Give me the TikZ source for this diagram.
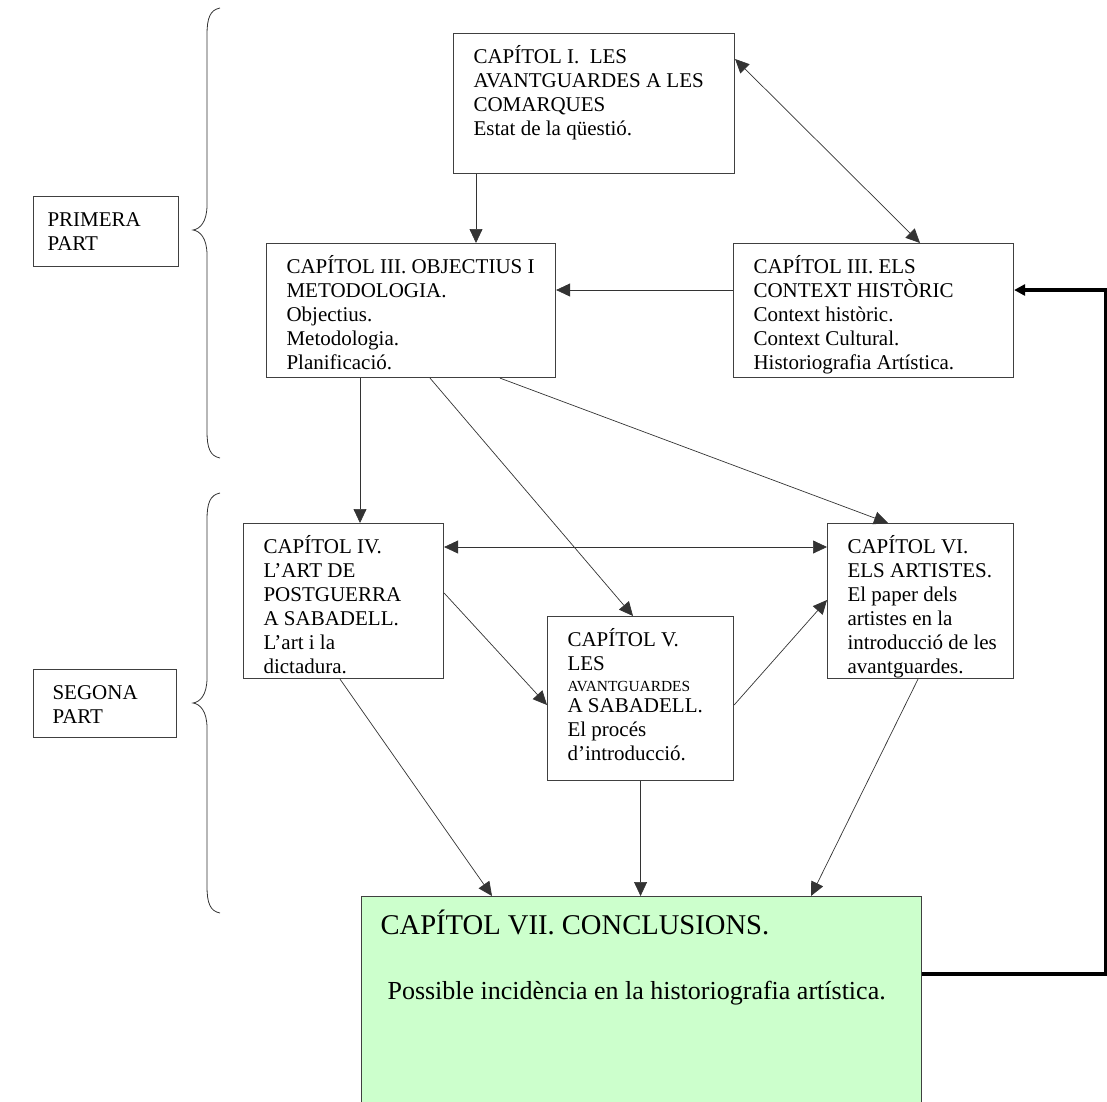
\documentclass[tikz,border=0pt]{standalone}
\usepackage{fontspec}
\setmainfont{Liberation Serif}
\usetikzlibrary{arrows.meta,calc}
\definecolor{conclgreen}{HTML}{CCFFCC}
\newcommand{\bodyfont}{\fontsize{21pt}{23.9pt}\selectfont}
\newcommand{\chapbox}[4]{\parbox[t][#2][t]{#1}{\bodyfont\leftskip=#3\rightskip=0pt plus 1fil\parindent=0pt\parfillskip=0pt plus 1fil\vspace*{10pt}\rule{0pt}{20pt}#4}}
\tikzset{
  chap/.style={draw=black!75, line width=1.1pt, fill=white, anchor=north west, inner sep=0pt, align=left},
  arr/.style={draw=black!80, line width=0.7pt, -{Triangle[length=14pt,width=13pt]}},
  arrtwo/.style={draw=black!80, line width=0.7pt, {Triangle[length=14pt,width=13pt]}-{Triangle[length=14pt,width=13pt]}},
  thickarr/.style={draw=black, line width=3.6pt, -{Triangle[length=11pt,width=11pt]}},
  brace/.style={draw=black!80, line width=0.8pt}
}
\begin{document}
\begin{tikzpicture}[x=1pt,y=-1pt]
\useasboundingbox (0,0) rectangle (1107,1101);
\clip (0,0) rectangle (1107,1101);

% chapter boxes
\node[chap] (c1) at (453,33) {\chapbox{281pt}{140pt}{20pt}{CAPÍTOL I.\ \ LES\\ AVANTGUARDES A LES\\ COMARQUES\\ Estat de la qüestió.}};
\node[chap] (c3L) at (266,243) {\chapbox{289pt}{134pt}{20pt}{CAPÍTOL III. OBJECTIUS I\\ METODOLOGIA.\\ Objectius.\\ Metodologia.\\ Planificació.}};
\node[chap] (c3R) at (733,243) {\chapbox{280pt}{134pt}{20pt}{CAPÍTOL III. ELS\\ CONTEXT HISTÒRIC\\ Context històric.\\ Context Cultural.\\ Historiografia Artística.}};
\node[chap] (c4) at (243,523) {\chapbox{200pt}{155pt}{20pt}{CAPÍTOL IV.\\ L’ART DE\\ POSTGUERRA\\ A SABADELL.\\ L’art i la\\ dictadura.}};
\node[chap] (c5) at (547,616) {\chapbox{186pt}{164pt}{20pt}{CAPÍTOL V.\\ LES\\[-2.9pt] {\fontsize{15.4pt}{19pt}\selectfont AVANTGUARDES}\\[-2.9pt] A SABADELL.\\ El procés\\ d’introducció.}};
\node[chap] (c6) at (827,523) {\chapbox{186pt}{155pt}{20pt}{CAPÍTOL VI.\\ ELS ARTISTES.\\ El paper dels\\ artistes en la\\ introducció de les\\ avantguardes.}};
\node[chap, fill=conclgreen] (c7) at (361,896) {\parbox[t][215pt][t]{560pt}{\parindent=0pt\vspace*{10pt}{\fontsize{28.6pt}{32pt}\selectfont\hspace*{19pt}\rule{0pt}{28pt}CAPÍTOL VII. CONCLUSIONS.\par}\vspace{35pt}{\fontsize{26pt}{30pt}\selectfont\hspace*{26pt}Possible incidència en la historiografia artística.\par}}};

% part labels
\node[chap] (p1) at (33,196) {\chapbox{145pt}{70pt}{14pt}{PRIMERA\\ PART}};
\node[chap] (p2) at (33,669) {\chapbox{143pt}{68pt}{19pt}{SEGONA\\ PART}};

% braces
\draw[brace] (220,8) .. controls (210,10) and (207,18) .. (207,35) -- (207,205) .. controls (207,222) and (200,229) .. (193,230) .. controls (200,231) and (207,238) .. (207,255) -- (207,431) .. controls (207,448) and (210,456) .. (220,458);
\draw[brace] (220,493) .. controls (210,495) and (207,503) .. (207,520) -- (207,678) .. controls (207,695) and (200,702) .. (193,703) .. controls (200,704) and (207,711) .. (207,728) -- (207,886) .. controls (207,903) and (210,911) .. (220,913);

% connectors
\draw[arr] ($(c1.south west)+(23,0)$) -- ($(c3L.north west)+(210,0)$);
\draw[arrtwo] ($(c1.north east)+(0,26)$) -- ($(c3R.north west)+(187,0)$);
\draw[arr] ($(c3R.north west)+(0,47)$) -- ($(c3L.north east)+(0,47)$);
\draw[arr] ($(c3L.south west)+(94,0)$) -- ($(c4.north west)+(117,0)$);
\draw[arr] ($(c3L.south west)+(164,0)$) -- ($(c5.north west)+(86,0)$);
\draw[arr] ($(c3L.south west)+(234,0)$) -- ($(c6.north west)+(61,0)$);
\draw[arrtwo] ($(c4.north east)+(0,24)$) -- ($(c6.north west)+(0,24)$);
\draw[arr] ($(c4.north east)+(0,70)$) -- ($(c5.north west)+(0,89)$);
\draw[arr] ($(c5.north east)+(0,89)$) -- ($(c6.north west)+(0,77)$);
\draw[arr] ($(c4.south west)+(97,0)$) -- ($(c7.north west)+(131,0)$);
\draw[arr] (c5.south) -- (c5.south |- c7.north);
\draw[arr] ($(c6.south west)+(91,0)$) -- ($(c7.north west)+(450,0)$);
\draw[thickarr] ($(c7.north east)+(0,78)$) -- ++(183.5,0) |- ($(c3R.north east)+(0,47)$);
\end{tikzpicture}
\end{document}
